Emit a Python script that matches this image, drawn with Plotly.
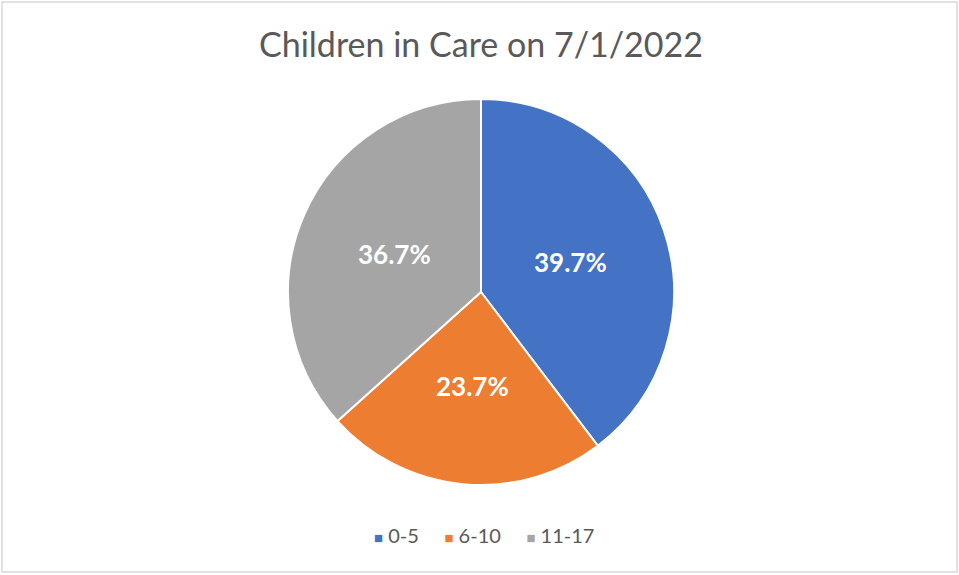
import math
import plotly.graph_objects as go

# Age groups of children in care and their share (%)
age_groups = ["0-5", "6-10", "11-17"]
shares = [39.7, 23.7, 36.7]
slice_colors = ["#4472C4", "#ED7D31", "#A5A5A5"]
chart_title = "Children in Care on 7/1/2022"

W, H = 959, 575
FONT = "Lato"
TEXT_GREY = "#595959"

# Pie placement in paper coordinates
pie_x = [288 / W, 674 / W]
pie_y = [1 - 485 / H, 1 - 99 / H]
cx_px = (pie_x[0] + pie_x[1]) / 2 * W
cy_px = (1 - (pie_y[0] + pie_y[1]) / 2) * H
radius_px = (pie_x[1] - pie_x[0]) * W / 2
label_r = 0.49  # data labels sit about halfway out from the centre

fig = go.Figure()

fig.add_trace(go.Pie(
    labels=age_groups,
    values=shares,
    sort=False,
    direction="clockwise",
    rotation=0,
    marker=dict(colors=slice_colors, line=dict(color="white", width=2)),
    textinfo="none",
    hoverinfo="label+percent",
    showlegend=False,
    domain=dict(x=pie_x, y=pie_y),
))

# Data labels at each slice's mid-angle (clockwise from 12 o'clock)
annotations = []
total = sum(shares)
cum = 0.0
for v in shares:
    mid = (cum + v / 2) / total * 2 * math.pi
    cum += v
    lx = cx_px + label_r * radius_px * math.sin(mid)
    ly = cy_px - label_r * radius_px * math.cos(mid)
    annotations.append(dict(
        text=f"{v:.1f}%",
        x=lx / W,
        y=1 - ly / H,
        xref="paper",
        yref="paper",
        xanchor="center",
        yanchor="middle",
        showarrow=False,
        font=dict(family=FONT, size=26, color="white", weight="bold"),
    ))

# Legend drawn as a single centred line of coloured squares and labels
legend_items = [
    f"<span style='color:{c};font-size:15px'>■</span> {g}"
    for g, c in zip(age_groups, slice_colors)
]
legend_text = "     ".join(legend_items)
annotations.append(dict(
    text=legend_text,
    x=484 / W,
    y=1 - 535 / H,
    xref="paper",
    yref="paper",
    xanchor="center",
    yanchor="middle",
    showarrow=False,
    font=dict(family=FONT, size=20, color=TEXT_GREY),
))

fig.update_layout(
    width=W,
    height=H,
    margin=dict(l=0, r=0, t=0, b=0),
    paper_bgcolor="white",
    plot_bgcolor="white",
    title=dict(
        text=chart_title,
        x=481 / W,
        xanchor="center",
        y=1 - 45 / H,
        yanchor="middle",
        font=dict(family=FONT, size=34, color=TEXT_GREY),
    ),
    annotations=annotations,
    shapes=[dict(
        type="rect",
        xref="paper",
        yref="paper",
        x0=2 / W,
        x1=1 - 2 / W,
        y0=3 / H,
        y1=1 - 2 / H,
        line=dict(color="#D9D9D9", width=1.5),
        fillcolor="rgba(0,0,0,0)",
    )],
)

fig.write_html("out.html")
